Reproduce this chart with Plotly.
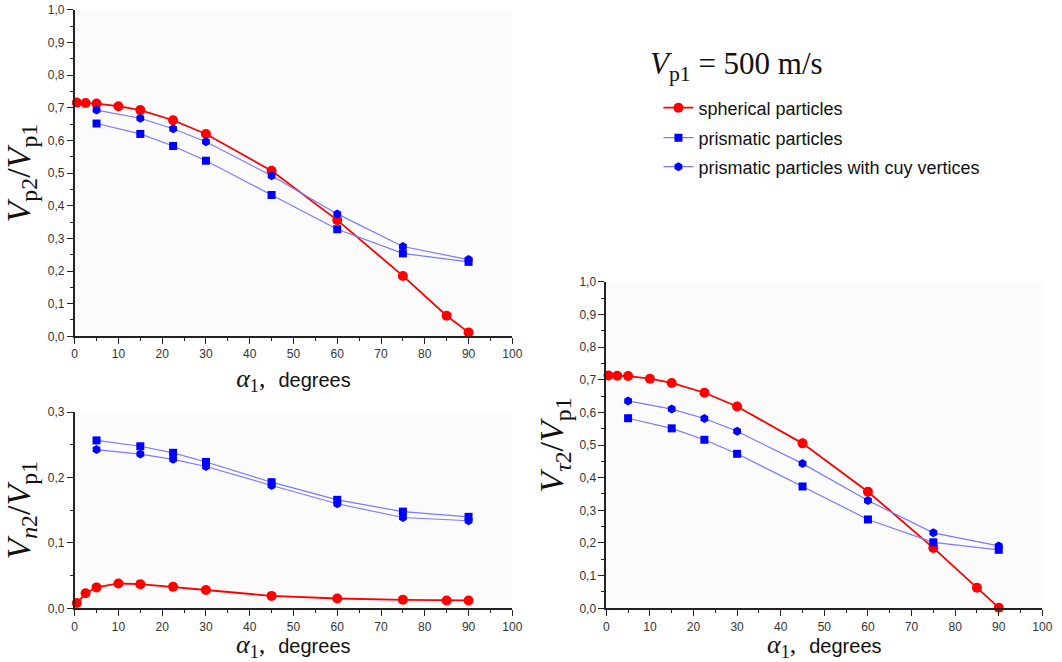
import plotly.graph_objects as go

# Incidence angle (degrees)
angle_sph = [0.5, 2.5, 5, 10, 15, 22.5, 30, 45, 60, 75, 85, 90]
angle_pri = [5, 15, 22.5, 30, 45, 60, 75, 90]

# Vp2/Vp1
vp_sph = [0.716, 0.715, 0.713, 0.705, 0.693, 0.662, 0.620, 0.507, 0.356, 0.185, 0.063, 0.012]
vp_pri = [0.652, 0.620, 0.583, 0.538, 0.433, 0.328, 0.254, 0.228]
vp_cut = [0.693, 0.668, 0.636, 0.596, 0.492, 0.375, 0.275, 0.235]

# Vn2/Vp1
vn_sph = [0.008, 0.023, 0.032, 0.038, 0.037, 0.033, 0.028, 0.019, 0.015, 0.013, 0.012, 0.012]
vn_pri = [0.257, 0.248, 0.238, 0.224, 0.193, 0.166, 0.148, 0.140]
vn_cut = [0.243, 0.236, 0.228, 0.217, 0.188, 0.160, 0.139, 0.134]

# Vtau2/Vp1
vt_sph = [0.713, 0.712, 0.711, 0.703, 0.690, 0.660, 0.618, 0.505, 0.357, 0.185, 0.063, 0.002]
vt_pri = [0.582, 0.551, 0.516, 0.473, 0.373, 0.272, 0.202, 0.179]
vt_cut = [0.635, 0.610, 0.581, 0.542, 0.443, 0.330, 0.231, 0.191]

series_names = ["spherical particles", "prismatic particles", "prismatic particles with cuy vertices"]

RED = "#ff0000"
BLUE = "#0000ff"
LBLUE = "#7a7aff"

fig = go.Figure()


def add_panel(xa, ya, sph, pri, cut, show):
    fig.add_trace(go.Scatter(
        x=angle_sph, y=sph, mode="lines+markers", name=series_names[0],
        line=dict(color=RED, width=1.8),
        marker=dict(symbol="circle", size=10, color=RED),
        xaxis=xa, yaxis=ya, showlegend=show, legend="legend", cliponaxis=False))
    fig.add_trace(go.Scatter(
        x=angle_pri, y=pri, mode="lines+markers", name=series_names[1],
        line=dict(color=LBLUE, width=1.2),
        marker=dict(symbol="square", size=8, color=BLUE),
        xaxis=xa, yaxis=ya, showlegend=show, legend="legend2", cliponaxis=False))
    fig.add_trace(go.Scatter(
        x=angle_pri, y=cut, mode="lines+markers", name=series_names[2],
        line=dict(color=LBLUE, width=1.2),
        marker=dict(symbol="hexagon", size=9, color=BLUE),
        xaxis=xa, yaxis=ya, showlegend=show, legend="legend3", cliponaxis=False))


add_panel("x", "y", vp_sph, vp_pri, vp_cut, True)
add_panel("x2", "y2", vn_sph, vn_pri, vn_cut, False)
add_panel("x3", "y3", vt_sph, vt_pri, vt_cut, False)

x_ticks = list(range(0, 101, 10))
X_TITLE = ("<i>α</i><sub>1</sub>,  "
           "<span style='font-family:Liberation Sans;font-size:20px'>degrees</span>")
X_TITLE_FONT = dict(family="Liberation Serif", size=26, color="#111")


def xaxis(domain, anchor, with_title=True):
    ax = dict(
        domain=domain, anchor=anchor, range=[0, 100],
        tickvals=x_ticks, ticktext=[str(v) for v in x_ticks],
        ticks="outside", ticklen=6, tickwidth=1.3, tickcolor="#222",
        minor=dict(tickvals=[v + 5 for v in x_ticks[:-1]], ticks="outside",
                   ticklen=3, tickwidth=1.3, tickcolor="#222"),
        showline=True, linecolor="#222", linewidth=1.6,
        showgrid=False, zeroline=False, automargin=False,
        tickfont=dict(family="Liberation Sans", size=12, color="#333"))
    if with_title:
        ax["title"] = dict(text=X_TITLE, font=X_TITLE_FONT, standoff=8)
    return ax


def yaxis(domain, anchor, top, step, title, standoff=12):
    n = int(round(top / step))
    vals = [round(i * step, 3) for i in range(n + 1)]
    return dict(
        domain=domain, anchor=anchor, range=[0, top],
        tickvals=vals, ticktext=[f"{v:.1f}".replace(".", ",") for v in vals],
        ticks="outside", ticklen=6, tickwidth=1.3, tickcolor="#222",
        minor=dict(tickvals=[v + step / 2 for v in vals[:-1]], ticks="outside",
                   ticklen=3, tickwidth=1.3, tickcolor="#222"),
        showline=True, linecolor="#222", linewidth=1.6,
        showgrid=False, zeroline=False, automargin=False,
        tickfont=dict(family="Liberation Sans", size=12, color="#333"),
        title=dict(text=title, font=dict(family="Liberation Serif", size=34, color="#111"),
                   standoff=standoff))


def legend_at(y):
    return dict(x=0.62, y=y, xanchor="left", yanchor="middle",
                bgcolor="rgba(0,0,0,0)", itemwidth=30,
                font=dict(family="Liberation Sans", size=18, color="#111"))


# x titles of the bottom row sit in the strip below the tick labels
bottom_titles = [
    dict(x=0.5, xref=f"{ax} domain", y=1 - 646 / 662, yref="paper",
         xanchor="center", yanchor="middle", showarrow=False,
         text=X_TITLE, font=X_TITLE_FONT)
    for ax in ("x2", "x3")
]

fig.update_layout(
    width=1062, height=662,
    margin=dict(l=0, r=0, t=0, b=0, autoexpand=False),
    paper_bgcolor="white", plot_bgcolor="#fbfbfb",
    xaxis=xaxis([0.0703, 0.4824], "y"),
    yaxis=yaxis([0.492, 0.985], "x", 1.0, 0.1,
                "<i>V</i><sub>p2</sub>/<i>V</i><sub>p1</sub>"),
    xaxis2=xaxis([0.0703, 0.4824], "y2", with_title=False),
    yaxis2=yaxis([0.0811, 0.3772], "x2", 0.3, 0.1,
                 "<i>V<sub>n</sub></i><sub>2</sub>/<i>V</i><sub>p1</sub>"),
    xaxis3=xaxis([0.5709, 0.9815], "y3", with_title=False),
    yaxis3=yaxis([0.0811, 0.5745], "x3", 1.0, 0.1,
                 "<i>V<sub>τ</sub></i><sub>2</sub>/<i>V</i><sub>p1</sub>", standoff=5),
    legend=legend_at(1 - 108 / 662),
    legend2=legend_at(1 - 138 / 662),
    legend3=legend_at(1 - 167 / 662),
    annotations=[dict(
        x=0.61, y=1 - 66 / 662, xref="paper", yref="paper", xanchor="left", yanchor="middle",
        showarrow=False,
        text="<i>V</i><sub>p1</sub> = 500 m/s",
        font=dict(family="Liberation Serif", size=31, color="#111"))] + bottom_titles,
)

fig.write_html("out.html")
